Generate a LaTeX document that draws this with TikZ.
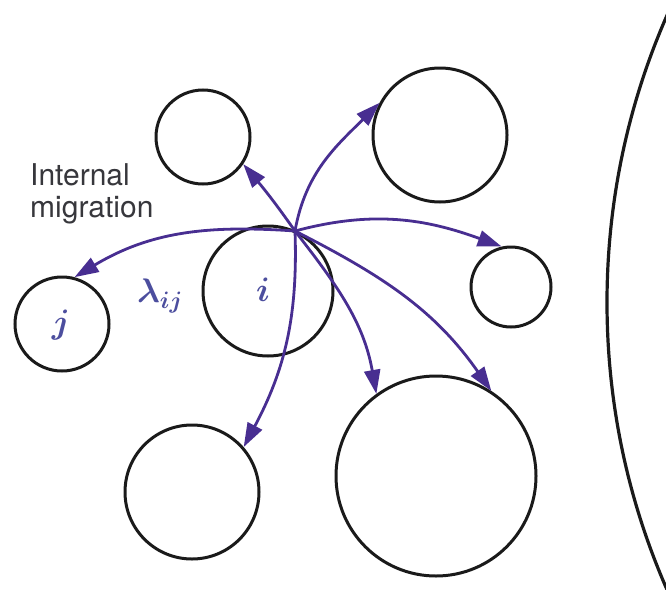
\RequirePackage{fix-cm}
\documentclass[tikz,border=0pt]{standalone}
\usepackage{fontspec}
\setsansfont{TeX Gyre Heros}
\usepackage{amsmath,bm}
\usetikzlibrary{arrows.meta}
\definecolor{flow}{RGB}{72,46,145}
\definecolor{lbl}{RGB}{76,78,158}
\definecolor{ink}{RGB}{26,26,26}
\definecolor{caption}{RGB}{55,55,60}
\begin{document}
\begin{tikzpicture}[x=1pt,y=1pt,
  patch/.style={circle,draw=ink,line width=3pt,inner sep=0pt,minimum size=#1},
  move/.style={draw=flow,line width=2.8pt,-{Triangle[length=24pt,width=16pt]}},
  sym/.style={text=lbl,font=\fontsize{34}{40}\selectfont\boldmath}
]
\useasboundingbox (0,0) rectangle (666,-589);
% habitat patches
\node[patch=94pt]  (tl) at (203,-137) {};
\node[patch=134pt] (tr) at (440,-135) {};
\node[patch=130pt] (pi) at (268,-291) {};
\node[patch=94pt]  (pj) at (62,-324) {};
\node[patch=80pt]  (rs) at (511,-287) {};
\node[patch=134pt] (bl) at (192,-492) {};
\node[patch=200pt] (bb) at (436,-476) {};
% large mainland boundary
\begin{scope}
\clip (0,0) rectangle (666,-589);
\draw[ink,line width=3.2pt] (1322,-302.5) circle[radius=715];
\end{scope}
% labels
\node[sym] (li) at (263,-290) {$i$};
\node[sym] (lj) at (61,-325) {$j$};
\node[sym] (lam) at (160,-296) {$\lambda_{ij}$};
\node[font=\sffamily\fontsize{30}{32}\selectfont,text=caption,align=left,anchor=north west,inner sep=0pt] (cap) at (30,-163) {Internal\\migration};
% dispersal source
\coordinate (hub) at (295,-231);
% migration arrows
\draw[move] (hub) to[out=176,in=31] (pj.75);
\draw[move] (hub) to[out=125,in=-50] (tl.-34);
\draw[move] (hub) to[out=80,in=225] (tr.152);
\draw[move] (hub) to[out=15,in=160] (rs.103);
\draw[move] (hub) to[out=-52,in=100] (bb.126);
\draw[move] (hub) to[out=-27,in=125] (bb.57);
\draw[move] (hub) to[out=-88,in=62] (bl.41);
\end{tikzpicture}
\end{document}
